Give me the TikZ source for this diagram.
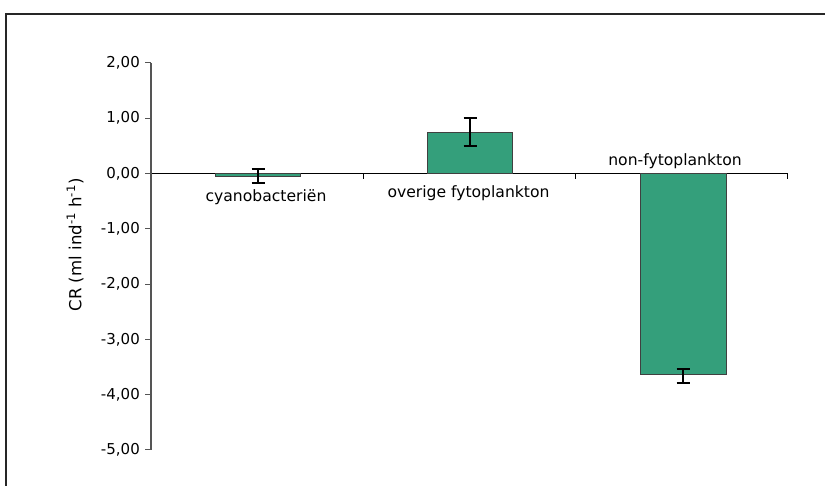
\documentclass[tikz,border=0pt]{standalone}
\usepackage{fontspec}
\setmainfont{DejaVu Sans}
\usepackage{xcolor}
\usetikzlibrary{positioning}

\definecolor{barfill}{RGB}{52,159,123}
\definecolor{axisgray}{RGB}{85,85,85}

\begin{document}
\begin{tikzpicture}[
    x=1pt, y=1pt,
    font=\fontsize{15}{18}\selectfont,
    frame/.style={line width=1.4pt, black!85},
    yaxis/.style={line width=1.4pt, axisgray},
    xaxis/.style={line width=0.9pt, black},
    bar/.style={draw=black!75, line width=0.8pt, fill=barfill},
    errbar/.style={line width=2pt, black},
    ticklbl/.style={anchor=east, inner sep=0pt},
    catlbl/.style={anchor=base, inner sep=0pt, font=\fontsize{15.6}{18}\selectfont}
]
\useasboundingbox (0,0) rectangle (825,486);
\draw[frame] (825,472) -- (6,472) -- (6,0);

% plot area, origin at 0,00
\begin{scope}[shift={(151,312.5)}, x=212pt, y=55.3pt]
  \foreach \v/\lbl [count=\k] in {2/{2,00},1/{1,00},0/{0,00},-1/{-1,00},-2/{-2,00},-3/{-3,00},-4/{-4,00},-5/{-5,00}}{
    \draw[yaxis, line width=1pt] (0,\v) -- ++(-6pt,0);
    \node[ticklbl] (tick\k) at ([xshift=-11pt]0,\v) {\lbl};
  }
  \draw[xaxis] (0,0) -- (3,0);
  \foreach \c in {1,2,3}
    \draw[xaxis] (\c,0) -- ++(0,-6pt);
  \draw[yaxis] (0,-5) -- (0,2);

  % bars with error bars
  \foreach \c/\val/\lo/\hi in {0.505/-0.06/-0.17/0.08, 1.505/0.75/0.50/1.01, 2.51/-3.63/-3.78/-3.53}{
    \draw[bar] (\c-0.202,0) rectangle (\c+0.202,\val);
    \draw[errbar] (\c,\lo) -- (\c,\hi);
    \draw[errbar] ([xshift=-6.5pt]\c,\lo) -- ([xshift=6.5pt]\c,\lo);
    \draw[errbar] ([xshift=-6.5pt]\c,\hi) -- ([xshift=6.5pt]\c,\hi);
  }
\end{scope}

\node[catlbl] (cyano) at (266,284) {cyanobacteriën};
\node[catlbl] (overige) at (468.5,288) {overige fytoplankton};
\node[catlbl] (nonfyto) at (675,320) {non-fytoplankton};

\node[rotate=90, font=\fontsize{16.6}{20}\selectfont] (ylabel) at (75,241) {CR (ml ind\textsuperscript{-1} h\textsuperscript{-1})};
\end{tikzpicture}
\end{document}
